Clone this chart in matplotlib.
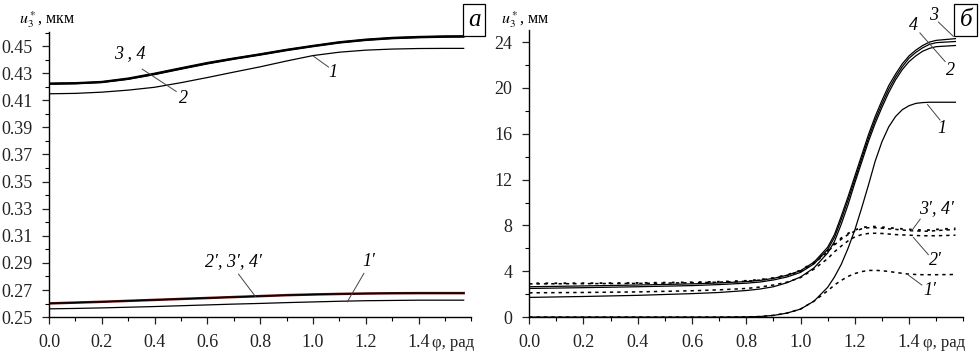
import numpy as np
import matplotlib
matplotlib.use("Agg")
import matplotlib.pyplot as plt
from matplotlib.ticker import MultipleLocator

plt.rcParams['font.family'] = 'serif'
plt.rcParams['font.serif'] = ['Liberation Serif', 'DejaVu Serif']
plt.rcParams['mathtext.fontset'] = 'stix'

# ---- панель а (мкм) ----
phi_a = [0.0, 0.1, 0.2, 0.3, 0.4, 0.5, 0.6, 0.7, 0.8, 0.9, 1.0, 1.1, 1.2, 1.3, 1.4, 1.5, 1.5708]
a_u3 = [0.4225, 0.4228, 0.4237, 0.4262, 0.4298, 0.4338, 0.4377, 0.4410, 0.4441, 0.4474,
        0.4503, 0.4530, 0.4549, 0.4562, 0.4569, 0.4573, 0.4574]
a_u4 = [0.4222, 0.4225, 0.4234, 0.4258, 0.4294, 0.4334, 0.4373, 0.4407, 0.4438, 0.4471,
        0.4500, 0.4527, 0.4546, 0.4559, 0.4566, 0.4570, 0.4571]
a_u2 = [0.4219, 0.4222, 0.4231, 0.4255, 0.4290, 0.4330, 0.4369, 0.4403, 0.4434, 0.4467,
        0.4496, 0.4523, 0.4542, 0.4555, 0.4562, 0.4566, 0.4567]
a_u1 = [0.4148, 0.4151, 0.4160, 0.4175, 0.4196, 0.4230, 0.4268, 0.4308, 0.4347, 0.4390,
        0.4430, 0.4455, 0.4470, 0.4478, 0.4482, 0.4483, 0.4483]
a_u234s = [0.2601, 0.2607, 0.2613, 0.2620, 0.2627, 0.2634, 0.2641, 0.2648, 0.2655, 0.2662,
           0.2667, 0.2671, 0.2674, 0.2676, 0.2677, 0.2677, 0.2677]
a_u1s = [0.2561, 0.2564, 0.2568, 0.2573, 0.2578, 0.2584, 0.2590, 0.2596, 0.2601, 0.2607,
         0.2612, 0.2617, 0.2621, 0.2623, 0.2625, 0.2625, 0.2625]

# ---- панель б (мм) ----
phi_b = [0.0, 0.2, 0.4, 0.6, 0.7, 0.8, 0.85, 0.9, 0.95, 1.0, 1.05, 1.1, 1.125, 1.15, 1.175,
         1.2, 1.225, 1.25, 1.275, 1.3, 1.325, 1.35, 1.375, 1.4, 1.425, 1.45, 1.475, 1.5, 1.5708]
b_u3 = [2.65, 2.72, 2.8, 2.9, 2.98, 3.1, 3.2, 3.38, 3.65, 4.05, 4.8, 6.1, 7.2, 8.8, 10.5,
        12.3, 14.1, 15.9, 17.5, 18.9, 20.2, 21.2, 22.1, 22.8, 23.3, 23.7, 24.0, 24.15, 24.3]
b_u4 = [2.5, 2.57, 2.65, 2.75, 2.84, 2.96, 3.06, 3.24, 3.5, 3.9, 4.65, 5.9, 6.95, 8.5, 10.2,
        12.0, 13.8, 15.6, 17.2, 18.6, 19.9, 20.95, 21.85, 22.6, 23.1, 23.5, 23.8, 23.95, 24.05]
b_u2 = [1.72, 1.8, 1.9, 2.05, 2.15, 2.32, 2.45, 2.65, 3.0, 3.5, 4.3, 5.6, 6.6, 8.1, 9.8,
        11.7, 13.5, 15.3, 16.9, 18.3, 19.6, 20.7, 21.6, 22.3, 22.8, 23.2, 23.45, 23.6, 23.7]
b_u1 = [0.0, 0.0, 0.0, 0.0, 0.0, 0.02, 0.05, 0.15, 0.35, 0.7, 1.4, 2.6, 3.5, 4.6, 6.0,
        7.6, 9.5, 11.5, 13.6, 15.3, 16.6, 17.5, 18.1, 18.45, 18.65, 18.72, 18.75, 18.75, 18.75]
b_u3s = [2.95, 2.96, 2.98, 3.04, 3.09, 3.17, 3.27, 3.42, 3.68, 4.08, 4.8, 5.8, 6.4, 6.9, 7.3,
         7.6, 7.8, 7.9, 7.9, 7.85, 7.8, 7.75, 7.7, 7.65, 7.62, 7.6, 7.6, 7.65, 7.75]
b_u4s = [2.9, 2.92, 2.94, 3.0, 3.05, 3.13, 3.23, 3.38, 3.63, 4.0, 4.7, 5.7, 6.3, 6.8, 7.2,
         7.5, 7.7, 7.8, 7.8, 7.76, 7.7, 7.66, 7.6, 7.55, 7.52, 7.5, 7.5, 7.55, 7.65]
b_u2s = [2.12, 2.15, 2.2, 2.3, 2.38, 2.5, 2.62, 2.8, 3.05, 3.45, 4.2, 5.1, 5.7, 6.2, 6.65,
         7.0, 7.2, 7.3, 7.32, 7.3, 7.25, 7.2, 7.17, 7.15, 7.12, 7.1, 7.1, 7.1, 7.15]
b_u1s = [0.0, 0.0, 0.0, 0.0, 0.0, 0.02, 0.05, 0.15, 0.35, 0.7, 1.4, 2.3, 2.8, 3.2, 3.55,
         3.8, 3.97, 4.07, 4.08, 4.05, 3.98, 3.9, 3.82, 3.75, 3.72, 3.7, 3.7, 3.7, 3.72]

xticks = [0.0, 0.2, 0.4, 0.6, 0.8, 1.0, 1.2, 1.4]

fig = plt.figure(figsize=(9.8, 3.62), dpi=100)
ax1 = fig.add_axes([0.050, 0.124, 0.431, 0.788])
ax2 = fig.add_axes([0.540, 0.124, 0.443, 0.793])

def style(ax):
    for s in ('top', 'right'):
        ax.spines[s].set_visible(False)
    for s in ('left', 'bottom'):
        ax.spines[s].set_linewidth(1.0)
    ax.set_xlim(0, 1.6)
    ax.set_xticks(xticks)
    ax.set_xticklabels(['%.1f' % v for v in xticks])
    ax.xaxis.set_minor_locator(MultipleLocator(0.1))
    ax.tick_params(which='major', length=5, width=0.9, labelsize=13, pad=7, colors='#222222')
    ax.tick_params(which='minor', length=3, width=0.8)
    ax.text(1.53, -0.062, 'φ, рад', transform=ax.get_xaxis_transform(),
            ha='center', va='top', fontsize=12, color='#222222')

# панель а
style(ax1)
ax1.set_ylim(0.25, 0.4605)
ax1.yaxis.set_minor_locator(MultipleLocator(0.01))
ax1.set_yticks(np.arange(0.25, 0.451, 0.02))
ax1.set_yticklabels(['%.2f' % v for v in np.arange(0.25, 0.451, 0.02)])
ax1.plot(phi_a, a_u1, color='black', lw=0.9)
ax1.plot(phi_a, a_u2, color='black', lw=1.0)
ax1.plot(phi_a, a_u4, color='black', lw=1.3)
ax1.plot(phi_a, a_u3, color='black', lw=1.3)
ax1.plot(phi_a, a_u1s, color='black', lw=0.9)
ax1.plot(phi_a, a_u234s, color='#5a1010', lw=1.8)
ax1.plot(phi_a, a_u234s, color='black', lw=0.9)

lab = dict(fontsize=13, style='italic', ha='center', va='center')
ax1.text(0.307, 0.4448, '3 , 4', **lab)
ax1.plot([0.353, 0.482], [0.433, 0.4165], color='#444444', lw=0.7)
ax1.text(0.51, 0.4115, '2', **lab)
ax1.text(1.074, 0.4305, '1', **lab)
ax1.plot([1.002, 1.059], [0.4425, 0.4345], color='#444444', lw=0.7)
ax1.text(0.70, 0.2908, "2′, 3′, 4′", **lab)
ax1.plot([0.718, 0.782], [0.2817, 0.2652], color='#444444', lw=0.7)
ax1.text(1.21, 0.2908, "1′", **lab)
ax1.plot([1.193, 1.13], [0.2823, 0.2613], color='#444444', lw=0.7)
ax1.text(-0.005, 1.005, r'$u_3^*$, мкм', transform=ax1.transAxes, ha='center',
         va='bottom', fontsize=11.5)

# панель б
style(ax2)
ax2.set_ylim(0, 25.05)
ax2.set_yticks(np.arange(0, 25, 4))
ax2.yaxis.set_minor_locator(MultipleLocator(2))
ax2.plot(phi_b, b_u1, color='black', lw=0.9)
ax2.plot(phi_b, b_u2, color='black', lw=0.9)
ax2.plot(phi_b, b_u4, color='black', lw=0.9)
ax2.plot(phi_b, b_u3, color='black', lw=0.9)
ax2.plot(phi_b, b_u1s, color='black', lw=1.1, ls=(0, (2.2, 2.6)))
ax2.plot(phi_b, b_u2s, color='black', lw=1.1, ls=(0, (2.2, 2.6)))
ax2.plot(phi_b, b_u4s, color='black', lw=1.1, ls=(0, (2.2, 2.6)))
ax2.plot(phi_b, b_u3s, color='black', lw=1.3, ls=(1, (1.5, 3.5)))

ax2.text(1.49, 26.3, '3', clip_on=False, **lab)
ax2.plot([1.508, 1.563], [25.75, 24.5], color='#444444', lw=0.7, clip_on=False)
ax2.text(1.416, 25.45, '4', clip_on=False, **lab)
ax2.plot([1.44, 1.533], [24.8, 22.3], color='#444444', lw=0.7, clip_on=False)
ax2.text(1.551, 21.5, '2', **lab)
ax2.text(1.52, 16.5, '1', **lab)
ax2.plot([1.468, 1.514], [18.55, 17.2], color='#444444', lw=0.7)
ax2.text(1.502, 9.5, "3′, 4′", **lab)
ax2.plot([1.441, 1.41], [8.55, 7.55], color='#444444', lw=0.7)
ax2.text(1.496, 4.95, "2′", **lab)
ax2.plot([1.471, 1.416], [5.45, 6.95], color='#444444', lw=0.7)
ax2.text(1.478, 2.3, "1′", **lab)
ax2.plot([1.447, 1.398], [2.8, 3.66], color='#444444', lw=0.7)
ax2.text(-0.01, 1.0, r'$u_3^*$, мм', transform=ax2.transAxes, ha='center',
         va='bottom', fontsize=11.5)

box = dict(boxstyle='square,pad=0.2', fc='white', ec='black', lw=0.9)
fig.text(0.4837, 0.944, 'а', fontsize=18, style='italic', ha='center', va='center', bbox=box)
fig.text(0.9855, 0.946, 'б', fontsize=18, style='italic', ha='center', va='center', bbox=box)

fig.savefig('out.png', dpi=100)
